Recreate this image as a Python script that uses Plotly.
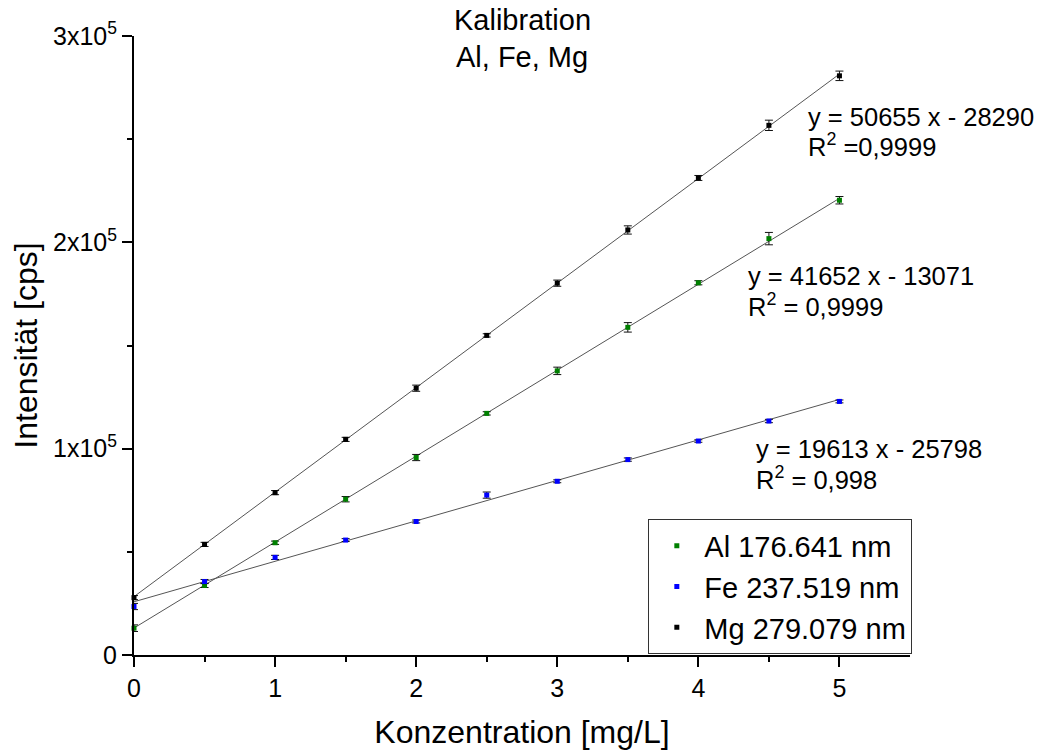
import numpy as np
import plotly.graph_objects as go

conc = [0, 0.5, 1, 1.5, 2, 2.5, 3, 3.5, 4, 4.5, 5]

al_vals = [13000, 33700, 54400, 75500, 95700, 117100, 137700, 158800, 180400, 201800, 220400]
al_err = [1600, 1000, 800, 1300, 1500, 800, 1800, 2300, 1000, 3000, 1800]
fe_vals = [23500, 35600, 47300, 55700, 64700, 77500, 84200, 94700, 103700, 113400, 122900]
fe_err = [1500, 1000, 1000, 700, 700, 1500, 700, 800, 600, 800, 700]
mg_vals = [27800, 53600, 78700, 104500, 129300, 154900, 180200, 206000, 231200, 256700, 280700]
mg_err = [1000, 1000, 1000, 1000, 1500, 800, 1500, 2000, 1200, 2500, 2300]

names = ["Al 176.641 nm", "Fe 237.519 nm", "Mg 279.079 nm"]
colors = ["#008000", "#0000FF", "#000000"]
slopes = [41652, 19613, 50655]
intercepts = [13071, 25798, 28290]
eq_texts = ["y = 41652 x - 13071", "y = 19613 x - 25798", "y = 50655 x - 28290"]
r2_texts = ["R<sup>2</sup> = 0,9999", "R<sup>2</sup> = 0,998", "R<sup>2</sup> =0,9999"]
title_lines = ["Kalibration", "Al, Fe, Mg"]

y_tickvals = [0, 100000, 200000, 300000]
y_ticktext = ["0", "1x10<sup>5</sup>", "2x10<sup>5</sup>", "3x10<sup>5</sup>"]

FONT = "Arial, Liberation Sans, sans-serif"

fig = go.Figure()

# fit lines
xfit = np.array([0.0, 5.0])
for s, b in zip(slopes, intercepts):
    fig.add_trace(go.Scatter(x=xfit, y=s * xfit + b, mode="lines",
                             line=dict(color="#555555", width=1),
                             showlegend=False, hoverinfo="skip", cliponaxis=False))

series = [(al_vals, al_err), (fe_vals, fe_err), (mg_vals, mg_err)]
for i, ((vals, err), nm, col) in enumerate(zip(series, names, colors)):
    fig.add_trace(go.Scatter(
        x=conc, y=vals, mode="markers", name=nm, legendgroup=nm,
        marker=dict(symbol="square", size=5, color=col, line=dict(width=0)),
        error_y=dict(type="data", array=err, visible=True, color="#111111",
                     thickness=1, width=4),
        cliponaxis=False))

# text positions in pixels converted to paper coords
L, R, T, B = 134, 910, 36, 657
def px(x):
    return (x - L) / (R - L)
def py(y):
    return (B - y) / (B - T)

ann_pos = [(746, 277, 309), (754, 450, 482), (806, 117, 148)]
for (x0, y1, y2), eq, r2 in zip(ann_pos, eq_texts, r2_texts):
    fig.add_annotation(x=px(x0), y=py(y1), xref="paper", yref="paper", text=eq,
                       showarrow=False, xanchor="left", yanchor="middle",
                       font=dict(size=25.5, color="black", family=FONT))
    fig.add_annotation(x=px(x0), y=py(y2 - 3), xref="paper", yref="paper", text=r2,
                       showarrow=False, xanchor="left", yanchor="middle",
                       font=dict(size=25.5, color="black", family=FONT))

for txt, yc in zip(title_lines, [20, 57]):
    fig.add_annotation(x=0.5, y=py(yc), xref="paper", yref="paper", text=txt,
                       showarrow=False, xanchor="center", yanchor="middle",
                       font=dict(size=29, color="black", family=FONT))

fig.update_layout(
    width=1046, height=756,
    margin=dict(l=L, r=1046 - R, t=T, b=756 - B),
    paper_bgcolor="white", plot_bgcolor="white",
    font=dict(family=FONT, color="black"),
    legend=dict(x=1.003, xanchor="right", y=py(521), yanchor="top",
                bordercolor="#333333", borderwidth=1, bgcolor="white",
                font=dict(size=29, family=FONT, color="black"),
                itemwidth=45, tracegroupgap=0, traceorder="normal"),
    xaxis=dict(range=[0, 5.5], showgrid=False, zeroline=False,
               showline=True, linecolor="black", linewidth=2,
               ticks="outside", ticklen=10, tickwidth=2, tickcolor="black",
               tickmode="array", tickvals=[0, 1, 2, 3, 4, 5],
               minor=dict(tickmode="array", tickvals=[0.5, 1.5, 2.5, 3.5, 4.5],
                          ticks="outside", ticklen=5, tickwidth=2, tickcolor="black"),
               tickfont=dict(size=25, family=FONT, color="black"),
               title=dict(text="Konzentration [mg/L]", standoff=20,
                          font=dict(size=32, family=FONT, color="black"))),
    yaxis=dict(range=[0, 300000], showgrid=False, zeroline=False,
               showline=True, linecolor="black", linewidth=2,
               ticks="outside", ticklen=10, tickwidth=2, tickcolor="black",
               tickmode="array", tickvals=y_tickvals, ticktext=y_ticktext,
               minor=dict(tickmode="array", tickvals=[50000, 150000, 250000],
                          ticks="outside", ticklen=5, tickwidth=2, tickcolor="black"),
               tickfont=dict(size=25, family=FONT, color="black"),
               title=dict(text="Intensität [cps]", standoff=6,
                          font=dict(size=32, family=FONT, color="black"))),
)

fig.write_html("out.html")
